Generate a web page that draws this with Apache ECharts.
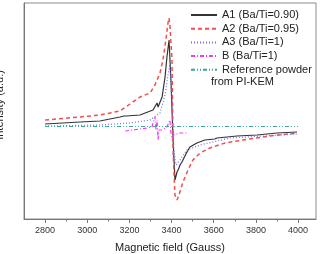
<!DOCTYPE html>
<html><head><meta charset="utf-8">
<script src="https://cdn.jsdelivr.net/npm/echarts@6/dist/echarts.min.js"></script>
<style>html,body{margin:0;padding:0;background:#fff}#c{width:321px;height:254px}</style>
</head><body><div id="c"></div>
<script>
// Tick labels (Gauss)
const xTickLabels = [2800, 3000, 3200, 3400, 3600, 3800, 4000];
const xMinorTicks = [2900, 3100, 3300, 3500, 3700, 3900];

// A1 (Ba/Ti=0.90)
const fieldA1 = [2800,2966,3060,3155,3174,3179,3184,3250,3312,3331,3336,3355,3369,3378,3388,3397,3407,3416,3426,3435,3440,3445,3449,3473,3487,3520,3558,3605,3610,3615,3710,3805,3900,3995];
const intA1   = [96,98,99,103,104,102,104,105,110,117,113,123,143,163,180,140,80,40,48,52,55,53,58,68,73,77,80,81,83,82,84,85,87,88];

// A2 (Ba/Ti=0.95)
const fieldA2 = [2800,2966,3060,3155,3203,3250,3298,3321,3345,3359,3373,3383,3388,3392,3402,3407,3416,3426,3435,3445,3454,3478,3501,3535,3582,3653,3739,3867,3995];
const intA2   = [100,103,105,109,116,123,127,135,147,160,180,197,202,195,160,70,25,20,25,32,38,50,60,67,72,77,80,84,87];

// A3 (Ba/Ti=1)
const fieldA3 = [2800,3060,3203,3298,3345,3369,3383,3392,3402,3411,3421,3440,3473,3535,3677,3995];
const intA3   = [94,95,97,100,107,125,145,155,120,70,55,60,70,75,82,86];

// B (Ba/Ti=1)
const fieldB = [3180,3217,3283,3307,3312,3321,3326,3331,3336,3340,3355,3378,3392,3397,3402,3407,3440,3473];
const intB   = [89,90,92,93,97,103,90,100,80,90,90,93,100,87,82,85,87,87];

// Reference powder from PI-KEM
const fieldRef = [2800, 4000];
const intRef   = [93.5, 93.5];

const pairs = (xs, ys) => xs.map((x, i) => [x, ys[i]]);

const chart = echarts.init(document.getElementById('c'), null, {renderer: 'canvas'});
const font = 'Liberation Sans, Arial, sans-serif';
chart.setOption({
  animation: false,
  backgroundColor: '#fff',
  grid: {left: 24, top: 3, right: 5, bottom: 35, show: true, borderColor: '#8c8c8c', borderWidth: 1,
         backgroundColor: 'transparent', outerBoundsMode: 'none', containLabel: false},
  xAxis: [{
    type: 'value', min: 2700, max: 4085,
    name: 'Magnetic field (Gauss)', nameLocation: 'middle', nameGap: 23,
    nameTextStyle: {fontFamily: font, fontSize: 11, color: '#222'},
    axisLine: {lineStyle: {color: '#777', width: 1}},
    axisTick: {show: true, length: 4, customValues: xTickLabels, lineStyle: {color: '#777'}},
    axisLabel: {customValues: xTickLabels, formatter: v => String(v), fontFamily: font, fontSize: 9, color: '#333', margin: 7},
    splitLine: {show: false}
  }, {
    type: 'value', min: 2700, max: 4085, position: 'bottom',
    axisLine: {show: false},
    axisTick: {show: true, length: 2.5, customValues: xMinorTicks, lineStyle: {color: '#777'}},
    axisLabel: {show: false}, splitLine: {show: false}
  }],
  yAxis: {
    type: 'value', min: 1, max: 217,
    name: 'Intensity (a.u.)', nameLocation: 'middle', nameGap: 19,
    nameTextStyle: {fontFamily: font, fontSize: 11, color: '#222', padding: [0, 0, 0, 12]},
    axisLine: {show: true, lineStyle: {color: '#777'}},
    axisTick: {show: false}, axisLabel: {show: false}, splitLine: {show: false}
  },
  legend: {
    left: 190, top: 9.5, orient: 'vertical', padding: 0, itemWidth: 26, itemHeight: 11, itemGap: 2.7,
    itemStyle: {opacity: 0},
    textStyle: {fontFamily: font, fontSize: 11, color: '#222', lineHeight: 11},
    data: ['A1 (Ba/Ti=0.90)', 'A2 (Ba/Ti=0.95)', 'A3 (Ba/Ti=1)', 'B (Ba/Ti=1)', 'Reference powder']
  },
  graphic: [{
    type: 'text', left: 211, top: 76,
    style: {text: 'from PI-KEM', font: '11px ' + font, fill: '#222'}
  }],
  series: [
    {name: 'A1 (Ba/Ti=0.90)', type: 'line', data: pairs(fieldA1, intA1), showSymbol: false, symbol: 'none',
     lineStyle: {color: '#333', width: 1.2}, itemStyle: {color: '#333'}},
    {name: 'A2 (Ba/Ti=0.95)', type: 'line', data: pairs(fieldA2, intA2), showSymbol: false, symbol: 'none',
     lineStyle: {color: '#f24f4f', width: 1.5, type: [4, 3]}, itemStyle: {color: '#f24f4f'}},
    {name: 'A3 (Ba/Ti=1)', type: 'line', data: pairs(fieldA3, intA3), showSymbol: false, symbol: 'none',
     lineStyle: {color: '#6f6ff0', width: 1.2, type: [1, 2]}, itemStyle: {color: '#6f6ff0'}},
    {name: 'B (Ba/Ti=1)', type: 'line', data: pairs(fieldB, intB), showSymbol: false, symbol: 'none',
     lineStyle: {color: '#f03cf0', width: 1.2, type: [4, 2, 1, 2]}, itemStyle: {color: '#f03cf0'}},
    {name: 'Reference powder', type: 'line', data: pairs(fieldRef, intRef), showSymbol: false, symbol: 'none',
     lineStyle: {color: '#3aa595', width: 1.2, type: [4, 2, 1, 2, 1, 2]}, itemStyle: {color: '#3aa595'}}
  ]
});
</script></body></html>
